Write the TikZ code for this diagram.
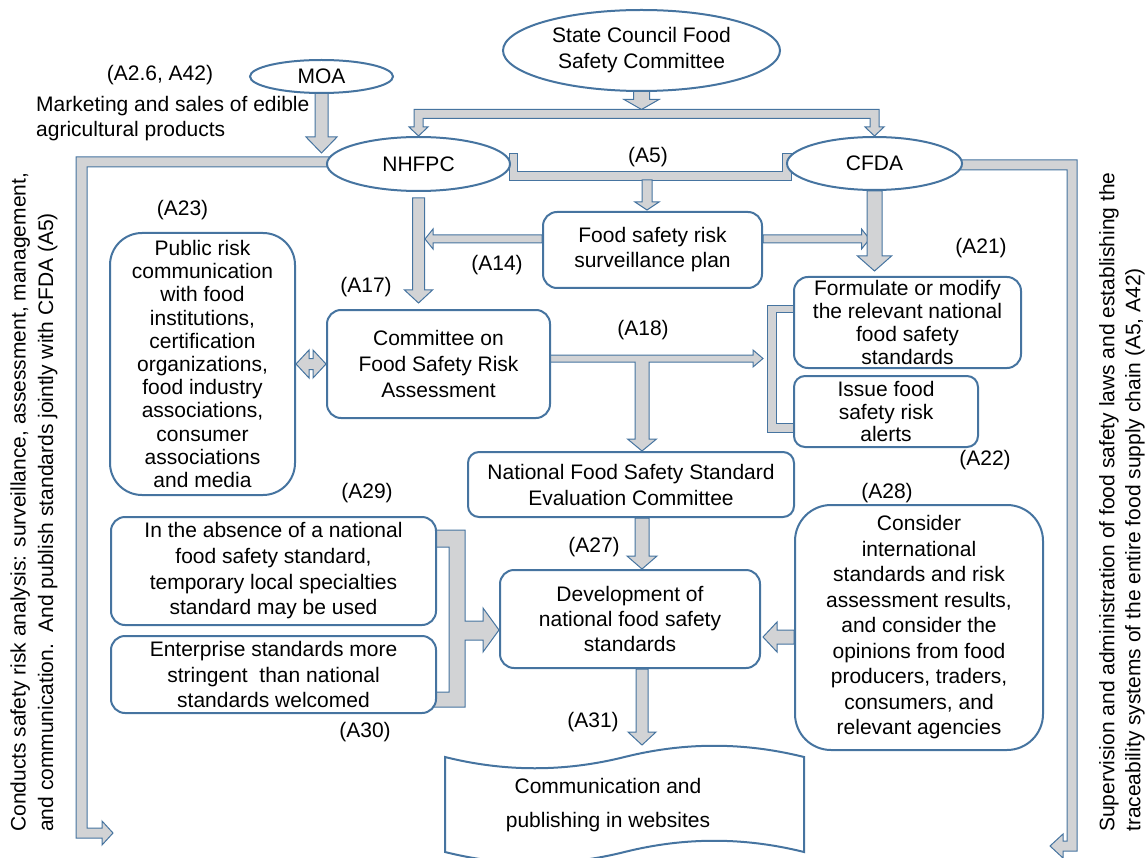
\documentclass[tikz,border=0pt]{standalone}
\usepackage{fontspec}
\setmainfont{Liberation Sans}
\usepackage{tikz}
\usetikzlibrary{shapes.geometric,calc,backgrounds,positioning}
\definecolor{FSblue}{HTML}{4674A0}
\definecolor{FSgray}{HTML}{D2D3D5}

\tikzset{
  blk/.style={draw=FSblue, fill=FSgray, line width=1pt, line join=miter},
  agency/.style={ellipse, draw=FSblue, fill=white, line width=2pt, inner sep=0pt, align=center},
  task/.style={rectangle, draw=FSblue, fill=white, line width=2pt, rounded corners=14pt, inner sep=0pt, align=center},
  ref/.style={inner sep=0pt},
  side/.style={inner sep=0pt, rotate=90, anchor=west, align=left},
}

% block arrows (1pt = 1px): start, tip, shaft half width, head half width, head length
\newcommand\downblk[5]{%
  \draw[blk] let \p1=(#1), \p2=(#2) in
    (\x2-#3pt,\y1) -- (\x2-#3pt,\y2+#5pt) -- (\x2-#4pt,\y2+#5pt) -- (\x2,\y2)
    -- (\x2+#4pt,\y2+#5pt) -- (\x2+#3pt,\y2+#5pt) -- (\x2+#3pt,\y1) -- cycle;}
\newcommand\rightblk[5]{%
  \draw[blk] let \p1=(#1), \p2=(#2) in
    (\x1,\y2+#3pt) -- (\x2-#5pt,\y2+#3pt) -- (\x2-#5pt,\y2+#4pt) -- (\x2,\y2)
    -- (\x2-#5pt,\y2-#4pt) -- (\x2-#5pt,\y2-#3pt) -- (\x1,\y2-#3pt) -- cycle;}
\newcommand\leftblk[5]{%
  \draw[blk] let \p1=(#1), \p2=(#2) in
    (\x1,\y2+#3pt) -- (\x2+#5pt,\y2+#3pt) -- (\x2+#5pt,\y2+#4pt) -- (\x2,\y2)
    -- (\x2+#5pt,\y2-#4pt) -- (\x2+#5pt,\y2-#3pt) -- (\x1,\y2-#3pt) -- cycle;}

\begin{document}
\begin{tikzpicture}[x=1pt, y=-1pt, font=\fontsize{21}{25}\selectfont]
\useasboundingbox (0,0) rectangle (1147,858);

\coordinate (fork) at (641.5,109.5);
\coordinate (moatip) at (321.5,153);
\coordinate (mid) at (642,0);
\coordinate (a18tip) at (763,358.5);
\coordinate (lbend) at (81.5,833);
\coordinate (ltip) at (113,833);
\coordinate (rbend) at (1072,846);
\coordinate (rtip) at (1050,846);

% agencies
\node[agency, minimum width=277pt, minimum height=81pt, font=\fontsize{21}{26}\selectfont] (sc) at (641.5,50.5) {State Council Food\\Safety Committee};
\node[agency, minimum width=143pt, minimum height=33pt] (moa) at (321.5,76.5) {MOA};
\node[agency, minimum width=183pt, minimum height=54pt] (nhfpc) at (418.5,164) {NHFPC};
\node[agency, minimum width=175pt, minimum height=53pt] (cfda) at (874.5,163.5) {CFDA};

% tasks
\node[task, minimum width=219pt, minimum height=76pt] (plan) at (652.5,250) {Food safety risk\\surveillance plan};
\node[task, minimum width=223pt, minimum height=108pt, font=\fontsize{21}{26}\selectfont] (cra) at (438.5,364) {Committee on\\Food Safety Risk\\Assessment};
\node[task, minimum width=185pt, minimum height=262pt, rounded corners=32pt, font=\fontsize{21}{23.2}\selectfont] (pub) at (202.5,364) {Public risk\\communication\\with food\\institutions,\\certification\\organizations,\\food industry\\associations,\\consumer\\associations\\and media};
\node[task, minimum width=227pt, minimum height=91pt, font=\fontsize{21}{23}\selectfont] (form) at (907.5,322.5) {Formulate or modify\\the relevant national\\food safety\\standards};
\node[task, minimum width=184pt, minimum height=71pt, rounded corners=11pt, font=\fontsize{21}{22.5}\selectfont] (alert) at (886,411.5) {Issue food\\safety risk\\alerts};
\node[task, minimum width=326pt, minimum height=65pt, rounded corners=11pt, font=\fontsize{21}{26}\selectfont] (nat) at (631,484.5) {National Food Safety Standard\\Evaluation Committee};
\node[task, minimum width=325pt, minimum height=108pt, font=\fontsize{21}{25.7}\selectfont] (absence) at (273.5,571) {In the absence of a national\\food safety standard,\\temporary local specialties\\standard may be used};
\node[task, minimum width=325pt, minimum height=77pt, font=\fontsize{21}{25.5}\selectfont] (ent) at (273.5,674.5) {Enterprise standards more\\stringent\ \ than national\\standards welcomed};
\node[task, minimum width=260pt, minimum height=98pt] (dev) at (630,619) {Development of\\national food safety\\standards};
\node[task, minimum width=248pt, minimum height=245pt, rounded corners=36pt, font=\fontsize{21}{25.5}\selectfont] (cons) at (919,627.5) {Consider\\international\\standards and risk\\assessment results,\\and consider the\\opinions from food\\producers, traders,\\consumers, and\\relevant agencies};
\node[ref, align=center, font=\fontsize{21}{34}\selectfont] (tape) at (608,805) {Communication and\\publishing in websites};

% references
\node[ref] (a26) at (160,75) {(A2.6, A42)};
\node[ref, anchor=west, align=left] (sales) at (36,118.5) {Marketing and sales of edible\\agricultural products};
\node[ref] (a5) at (648,157) {(A5)};
\node[ref] (a23) at (182.5,210) {(A23)};
\node[ref] (a14) at (497,265) {(A14)};
\node[ref] (a17) at (366,287) {(A17)};
\node[ref] (a21) at (981,248) {(A21)};
\node[ref] (a18) at (643,330) {(A18)};
\node[ref] (a22) at (985,460) {(A22)};
\node[ref] (a29) at (367,493) {(A29)};
\node[ref] (a28) at (887,493) {(A28)};
\node[ref] (a27) at (594,547) {(A27)};
\node[ref] (a30) at (365,732) {(A30)};
\node[ref] (a31) at (593,722) {(A31)};

\node[side, font=\fontsize{21}{27.5}\selectfont] (conducts) at (34,832) {Conducts safety risk analysis: surveillance, assessment, management,\\and communication.\ \ And publish standards jointly with CFDA (A5)};
\node[side, font=\fontsize{21}{26}\selectfont] (superv) at (1122,832) {Supervision and administration of food safety laws and establishing the\\traceability systems of the entire food supply chain (A5, A42)};

\begin{pgfonlayer}{background}
% state council to both agencies
\downblk{$(sc.south)+(0,-4)$}{fork}{8}{17.5}{10}
\draw[blk] let \p1=(nhfpc.north), \p2=(cfda.north), \p3=(fork) in
  (\x1-4.5pt,\y3) -- (\x2+4.5pt,\y3) -- (\x2+4.5pt,\y2+9pt) -- (\x2+9.5pt,\y2+9pt) -- (\x2,\y2)
  -- (\x2-9.5pt,\y2+9pt) -- (\x2-4.5pt,\y2+9pt) -- (\x2-4.5pt,\y3-9pt) -- (\x1+4.5pt,\y3-9pt)
  -- (\x1+4.5pt,\y1+9pt) -- (\x1+9.5pt,\y1+9pt) -- (\x1,\y1) -- (\x1-9.5pt,\y1+9pt) -- (\x1-4.5pt,\y1+9pt) -- cycle;
\downblk{$(moa.south)+(0,-3)$}{moatip}{6.5}{15.5}{16}
% (A5) link and plan
\draw[blk] let \p1=(nhfpc.east), \p2=(cfda.west) in
  (\x1-2pt,\y1+10pt) -- (\x1+6pt,\y1+10pt) -- (\x1+6pt,\y1-8pt) -- (\x2-4pt,\y1-8pt) -- (\x2-4pt,\y1+10pt)
  -- (\x2+5pt,\y1+10pt) -- (\x2+5pt,\y1-17pt) -- (\x1-2pt,\y1-17pt) -- cycle;
\downblk{$(plan.north)+(0,-31)$}{$(plan.north)+(-5.5,-1)$}{5}{12}{8}
\downblk{$(nhfpc.south)+(0,6)$}{$(nhfpc.south |- cra.north)+(0,-6)$}{6}{14}{13}
\leftblk{plan.west}{$(nhfpc.south |- plan.west)+(6.5,-11)$}{4}{10}{8}
\rightblk{plan.east}{$(cfda.south |- plan.east)+(-5,-11)$}{4}{10}{8}
\downblk{cfda.south}{$(cfda.south |- form.north)+(0,-5)$}{7.5}{17}{15}
% long side arrows
\draw[blk] let \p1=(nhfpc.west), \p2=(lbend), \p3=(ltip) in
  (\x1+20pt,\y1+7pt) -- (\x2-5.5pt,\y1+7pt) -- (\x2-5.5pt,\y3-5pt) -- (\x3-11pt,\y3-5pt) -- (\x3-11pt,\y3-12pt)
  -- (\x3,\y3) -- (\x3-11pt,\y3+12pt) -- (\x3-11pt,\y3+5pt) -- (\x2+5.5pt,\y3+5pt) -- (\x2+5.5pt,\y1-3pt)
  -- (\x1+20pt,\y1-3pt) -- cycle;
\draw[blk] let \p1=(cfda.east), \p2=(rbend), \p3=(rtip) in
  (\x1-20pt,\y1+3.5pt) -- (\x2+5pt,\y1+3.5pt) -- (\x2+5pt,\y3-5pt) -- (\x3+13pt,\y3-5pt) -- (\x3+13pt,\y3-12pt)
  -- (\x3,\y3) -- (\x3+13pt,\y3+12pt) -- (\x3+13pt,\y3+5pt) -- (\x2-5pt,\y3+5pt) -- (\x2-5pt,\y1-6.5pt)
  -- (\x1-20pt,\y1-6.5pt) -- cycle;
% risk assessment
\draw[blk] let \p1=(pub.east), \p2=(cra.west) in
  (\x1,\y1) -- (\x1+13pt,\y1+14pt) -- (\x1+13pt,\y1+5.5pt) -- (\x2-13pt,\y1+5.5pt) -- (\x2-13pt,\y1+14pt)
  -- (\x2,\y1) -- (\x2-13pt,\y1-14pt) -- (\x2-13pt,\y1-5.5pt) -- (\x1+13pt,\y1-5.5pt) -- (\x1+13pt,\y1-14pt) -- cycle;
\draw[blk] let \p1=(cra.east), \p2=(a18tip), \p3=(mid |- nat.north) in
  (\x1-5pt,\y2+3.5pt) -- (\x2-10pt,\y2+3.5pt) -- (\x2-10pt,\y2+8.5pt) -- (\x2,\y2) -- (\x2-10pt,\y2-8.5pt)
  -- (\x2-10pt,\y2-3.5pt) -- (\x3+7pt,\y2-3.5pt) -- (\x3+7pt,\y3+12pt) -- (\x3+14.5pt,\y3+12pt) -- (\x3,\y3)
  -- (\x3-14.5pt,\y3+12pt) -- (\x3-7pt,\y3+12pt) -- (\x3-7pt,\y2-3.5pt) -- (\x1-5pt,\y2-3.5pt) -- cycle;
\draw[blk] let \p1=(form.west), \p2=(alert.west) in
  (\x1+4pt,\y1+17.5pt) -- (\x1-26pt,\y1+17.5pt) -- (\x1-26pt,\y2-20.5pt) -- (\x1+4pt,\y2-20.5pt)
  -- (\x1+4pt,\y2-11.5pt) -- (\x1-17pt,\y2-11.5pt) -- (\x1-17pt,\y1+10.5pt) -- (\x1+4pt,\y1+10.5pt) -- cycle;
% standards
\downblk{nat.south}{mid |- dev.north}{7}{15}{13}
\draw[blk] let \p1=(absence.east), \p2=(ent.east), \p3=(dev.west) in
  (\x1-4pt,\y1+41pt) -- (\x1+28pt,\y1+41pt) -- (\x1+28pt,\y3-2pt) -- (\x3-16pt,\y3-2pt) -- (\x3-16pt,\y3+11pt)
  -- (\x3,\y3-11pt) -- (\x3-16pt,\y3-33pt) -- (\x3-16pt,\y3-21pt) -- (\x1+28pt,\y3-21pt) -- (\x1+28pt,\y2-32.5pt)
  -- (\x1-4pt,\y2-32.5pt) -- (\x1-4pt,\y2-17.5pt) -- (\x1+12pt,\y2-17.5pt) -- (\x1+12pt,\y1+24pt) -- (\x1-4pt,\y1+24pt) -- cycle;
\leftblk{cons.west}{$(dev.east)+(2,18)$}{7}{15}{14}
\downblk{dev.south}{$(tape)+(34,-60)$}{6}{14}{13}
% website tape
\draw[FSblue, line width=2pt, fill=white] ($(tape)+(-163,-48)$) .. controls +(60,15) and +(-60,15) .. ($(tape)+(16.5,-48)$)
  .. controls +(60,-15) and +(-60,-15) .. ($(tape)+(196,-48)$) -- ($(tape)+(196,47)$)
  .. controls +(-60,-15) and +(60,-15) .. ($(tape)+(16.5,47)$) .. controls +(-60,15) and +(60,15) .. ($(tape)+(-163,47)$) -- cycle;
\end{pgfonlayer}
\end{tikzpicture}
\end{document}
